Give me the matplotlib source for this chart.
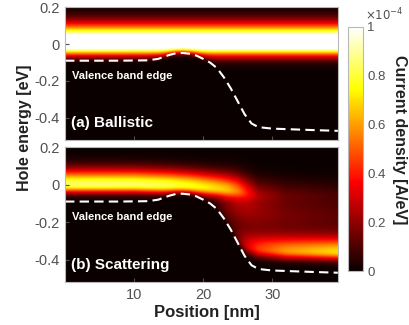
import numpy as np
import matplotlib
matplotlib.use("Agg")
import matplotlib.pyplot as plt

plt.rcParams['font.family'] = ['Liberation Sans', 'DejaVu Sans']
plt.rcParams['axes.unicode_minus'] = False

# valence band edge
edge_x = [0, 4, 8, 12, 13.5, 15, 16, 17, 18, 19, 20, 21, 22, 23, 24, 25, 26, 27, 28, 30, 33, 36, 39.5]
edge_E = [-0.09, -0.09, -0.09, -0.088, -0.08, -0.06, -0.05, -0.048, -0.052, -0.062, -0.08, -0.10,
          -0.13, -0.18, -0.24, -0.31, -0.38, -0.43, -0.45, -0.458, -0.462, -0.466, -0.47]

# (a) ballistic: one band, same at every position (units of 1e-4 A/eV)
ball_E = 0.005
ball_amp = 1.25
ball_w_up = 0.068
ball_w_lo = 0.045

# (b) scattering: upper band, lower band and the diffuse part between them
sc_x = [0, 5, 10, 15, 18, 20, 22, 23.5, 25, 26.5, 28, 32, 39.5]
sc_up_E = [0.0, 0.0, 0.0, -0.005, -0.01, -0.015, -0.02, -0.025, -0.03, -0.04, -0.05, -0.05, -0.05]
sc_up_amp = [0.84, 0.85, 0.84, 0.82, 0.78, 0.72, 0.63, 0.52, 0.38, 0.22, 0.11, 0.06, 0.04]
sc_lo_E = [-0.3, -0.3, -0.3, -0.3, -0.3, -0.3, -0.3, -0.3, -0.3, -0.33, -0.345, -0.355, -0.36]
sc_lo_amp = [0, 0, 0, 0, 0, 0, 0, 0.03, 0.12, 0.3, 0.43, 0.57, 0.68]
sc_glow_E = [-0.05, -0.05, -0.05, -0.05, -0.06, -0.07, -0.08, -0.09, -0.1, -0.12, -0.14, -0.16, -0.17]
sc_glow_amp = [0, 0, 0, 0, 0, 0.02, 0.08, 0.18, 0.24, 0.24, 0.21, 0.16, 0.12]
band_w_up = 0.055
band_w_lo = 0.03
glow_w = 0.09

xlim = (0, 39.5)
ylim = (-0.52, 0.2)
xg = np.linspace(xlim[0], xlim[1], 400)
Eg = np.linspace(ylim[0], ylim[1], 400)
X, E = np.meshgrid(xg, Eg)


def band(c, amp, w_up, w_lo):
    w = np.where(E >= c, w_up, w_lo)
    return amp * np.exp(-0.5 * ((E - c) / w) ** 2)


edge = np.interp(X, edge_x, edge_E)
cut = 1 / (1 + np.exp(-(E - edge) / 0.012))

ballistic = band(ball_E, ball_amp, ball_w_up, ball_w_lo) * cut

p = lambda v: np.interp(X, sc_x, v)
scattering = (band(p(sc_up_E), p(sc_up_amp), band_w_up, band_w_lo)
              + band(p(sc_lo_E), p(sc_lo_amp), band_w_up, band_w_lo)
              + band(p(sc_glow_E), p(sc_glow_amp), glow_w, glow_w)) * cut

fig = plt.figure(figsize=(4.09, 3.25), dpi=100)
ax1 = fig.add_axes([0.159, 0.569, 0.667, 0.409])
ax2 = fig.add_axes([0.159, 0.132, 0.667, 0.415])
cax = fig.add_axes([0.850, 0.166, 0.038, 0.751])

tick_col = '#505050'
for ax, field, label in [(ax1, ballistic, '(a) Ballistic'), (ax2, scattering, '(b) Scattering')]:
    im = ax.imshow(field, extent=[xlim[0], xlim[1], ylim[0], ylim[1]], origin='lower',
                   aspect='auto', cmap='hot', vmin=0, vmax=1, interpolation='bilinear')
    ax.plot(edge_x, edge_E, color='white', lw=1.5, dashes=(4.5, 2.5))
    ax.set_xlim(xlim)
    ax.set_ylim(ylim)
    ax.set_yticks([-0.4, -0.2, 0, 0.2])
    ax.set_yticklabels(['-0.4', '-0.2', '0', '0.2'])
    ax.set_xticks([10, 20, 30])
    ax.tick_params(direction='in', length=3, colors=tick_col, labelsize=10.5, pad=4)
    for s in ax.spines.values():
        s.set_color('#b8b8b8')
    ax.text(1.0, -0.175, 'Valence band edge', color='white', fontsize=8, fontweight='bold',
            va='center', ha='left')
    ax.text(0.8, -0.43, label, color='white', fontsize=11, fontweight='bold',
            va='center', ha='left')

ax1.tick_params(labelbottom=False)
ax2.set_xticklabels(['10', '20', '30'])

cb = fig.colorbar(im, cax=cax)
cb.set_ticks([0, 0.2, 0.4, 0.6, 0.8, 1])
cb.set_ticklabels(['0', '0.2', '0.4', '0.6', '0.8', '1'])
cb.ax.tick_params(length=0, colors=tick_col, labelsize=9.5, pad=3)
cb.outline.set_edgecolor('#b8b8b8')
fig.text(0.892, 0.955, r'$\times10^{-4}$', color=tick_col, fontsize=8.5, va='center', ha='left')
fig.text(0.976, 0.57, 'Current density [A/eV]', rotation=270, fontsize=11.5, fontweight='bold',
         color='#222222', ha='center', va='center')

fig.text(0.061, 0.608, 'Hole energy [eV]', rotation=90, fontsize=11.5, fontweight='bold',
         color='#222222', ha='center', va='center')
fig.text(0.507, 0.037, 'Position [nm]', fontsize=12, fontweight='bold',
         color='#222222', ha='center', va='center')

fig.savefig('out.png', dpi=100)
